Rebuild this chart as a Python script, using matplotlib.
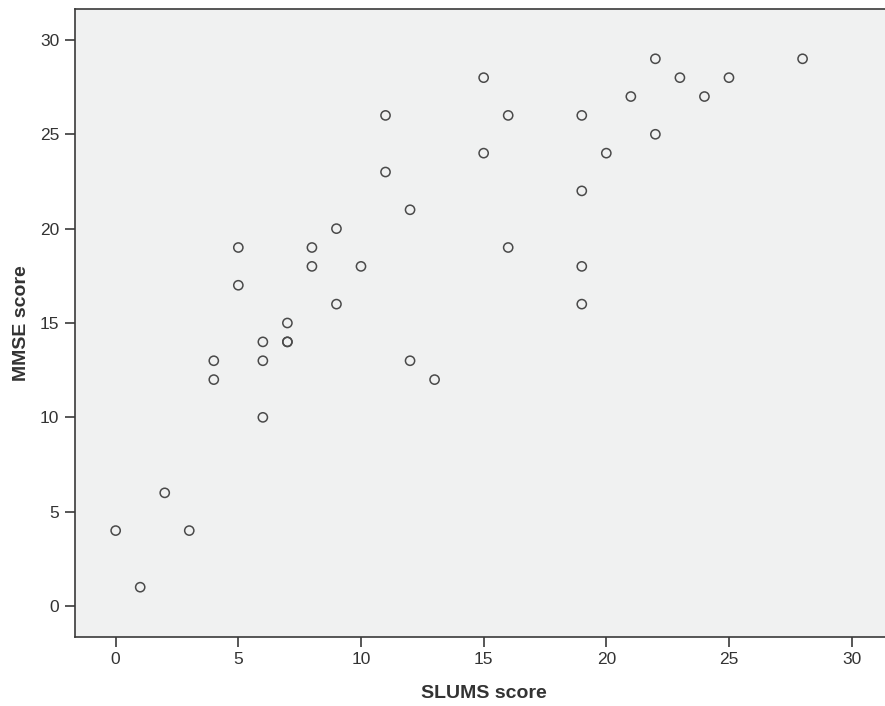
import matplotlib.pyplot as plt

plt.rcParams['font.family'] = ['Liberation Sans', 'DejaVu Sans']

# SLUMS vs MMSE scores
slums = [0, 1, 2, 3, 4, 4, 5, 5, 6, 6, 6, 7, 7, 7, 8, 8, 9, 9, 10, 11, 11, 12, 12, 13,
         15, 15, 16, 16, 19, 19, 19, 19, 20, 21, 22, 22, 23, 24, 25, 28]
mmse = [4, 1, 6, 4, 13, 12, 19, 17, 14, 13, 10, 15, 14, 14, 19, 18, 20, 16, 18, 26, 23, 21, 13, 12,
        28, 24, 26, 19, 26, 22, 18, 16, 24, 27, 29, 25, 28, 27, 28, 29]
ticks = [0, 5, 10, 15, 20, 25, 30]

fig = plt.figure(figsize=(8.85, 7.06), dpi=100)
ax = fig.add_axes([0.0844, 0.0977, 0.9156, 0.8896])
ax.set_facecolor('#f0f1f1')

ax.scatter(slums, mmse, s=44, facecolors='none', edgecolors='#4a4a4a', linewidths=1.1, zorder=3)

ax.set_xlim(-1.67, 31.36)
ax.set_ylim(-1.64, 31.64)
ax.set_xticks(ticks)
ax.set_yticks(ticks)

for side in ['left', 'bottom', 'top']:
    ax.spines[side].set_color('#3a3a3a')
    ax.spines[side].set_linewidth(1.2)
ax.spines['right'].set_visible(False)

ax.tick_params(length=7, width=1.2, color='#3a3a3a', labelsize=12.5, labelcolor='#333333', pad=4)

ax.set_xlabel('SLUMS score', fontsize=14, fontweight='bold', color='#333333')
ax.set_ylabel('MMSE score', fontsize=14, fontweight='bold', color='#333333')
ax.xaxis.set_label_coords(0.505, -0.076)
ax.yaxis.set_label_coords(-0.055, 0.5)

fig.savefig('out.png', dpi=100)
